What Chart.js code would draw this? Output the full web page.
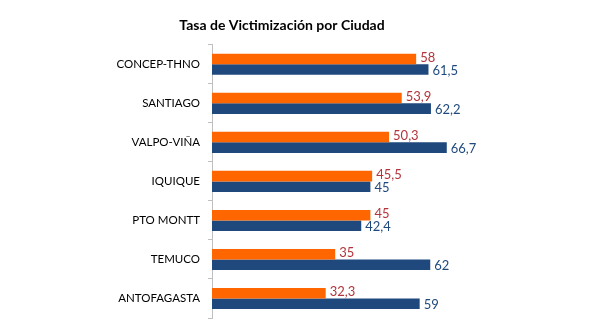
<!DOCTYPE html>
<html lang="es">
<head>
    <meta charset="UTF-8">
    <title>Tasa de Victimización por Ciudad</title>
    <script src="https://cdn.jsdelivr.net/npm/chart.js"></script>
    <style>
        html, body {
            margin: 0;
            padding: 0;
            background: #ffffff;
        }

        .chart-container {
            position: relative;
            width: 603px;
            height: 322px;
        }
    </style>
</head>
<body>
    <div class="chart-container">
        <canvas id="victimChart"></canvas>
    </div>

    <script>
        const ciudades = ['CONCEP-THNO', 'SANTIAGO', 'VALPO-VIÑA', 'IQUIQUE', 'PTO MONTT', 'TEMUCO', 'ANTOFAGASTA'];
        const serieNaranja = [58, 53.9, 50.3, 45.5, 45, 35, 32.3];
        const serieAzul = [61.5, 62.2, 66.7, 45, 42.4, 62, 59];

        const fontFamily = 'Lato, "Open Sans", sans-serif';

        // etiquetas de valor al final de cada barra, con coma decimal
        const valueLabels = {
            id: 'valueLabels',
            afterDatasetsDraw(chart) {
                const ctx = chart.ctx;
                ctx.save();
                ctx.font = '13px ' + fontFamily;
                ctx.textAlign = 'left';
                ctx.textBaseline = 'middle';
                chart.data.datasets.forEach((ds, i) => {
                    const meta = chart.getDatasetMeta(i);
                    ctx.fillStyle = ds.labelColor;
                    meta.data.forEach((bar, j) => {
                        const txt = String(ds.data[j]).replace('.', ',');
                        ctx.fillText(txt, bar.x + 4, bar.y + (i === 0 ? -1 : 1));
                    });
                });
                ctx.restore();
            }
        };

        const ctx = document.getElementById('victimChart').getContext('2d');
        new Chart(ctx, {
            type: 'bar',
            data: {
                labels: ciudades,
                datasets: [
                    {
                        label: 'Serie 1',
                        data: serieNaranja,
                        backgroundColor: '#ff6600',
                        labelColor: '#b3343a',
                        categoryPercentage: 0.54,
                        barPercentage: 1.0
                    },
                    {
                        label: 'Serie 2',
                        data: serieAzul,
                        backgroundColor: '#1f497d',
                        labelColor: '#1f497d',
                        categoryPercentage: 0.54,
                        barPercentage: 1.0
                    }
                ]
            },
            options: {
                indexAxis: 'y',
                responsive: true,
                maintainAspectRatio: false,
                animation: false,
                layout: {
                    padding: { top: 0, right: 39, bottom: 4, left: 0 }
                },
                scales: {
                    x: {
                        display: false,
                        min: 0,
                        max: 100
                    },
                    y: {
                        afterFit(scale) {
                            scale.width = 212;
                            // no reservar espacio extra arriba/abajo para las etiquetas
                            scale.paddingTop = 0;
                            scale.paddingBottom = 0;
                        },
                        border: {
                            display: true,
                            color: '#bfbfbf'
                        },
                        grid: {
                            display: true,
                            drawOnChartArea: false,
                            drawTicks: true,
                            tickLength: 4,
                            offset: true,
                            color: '#bfbfbf'
                        },
                        ticks: {
                            padding: 8,
                            color: '#000000',
                            font: { family: fontFamily, size: 11.5 }
                        }
                    }
                },
                plugins: {
                    legend: { display: false },
                    tooltip: { enabled: false },
                    title: {
                        display: true,
                        text: 'Tasa de Victimización por Ciudad',
                        color: '#000000',
                        font: { family: fontFamily, size: 14, weight: 'bold' },
                        padding: { top: 17, bottom: 11 }
                    }
                }
            },
            plugins: [valueLabels]
        });
    </script>
</body>
</html>
